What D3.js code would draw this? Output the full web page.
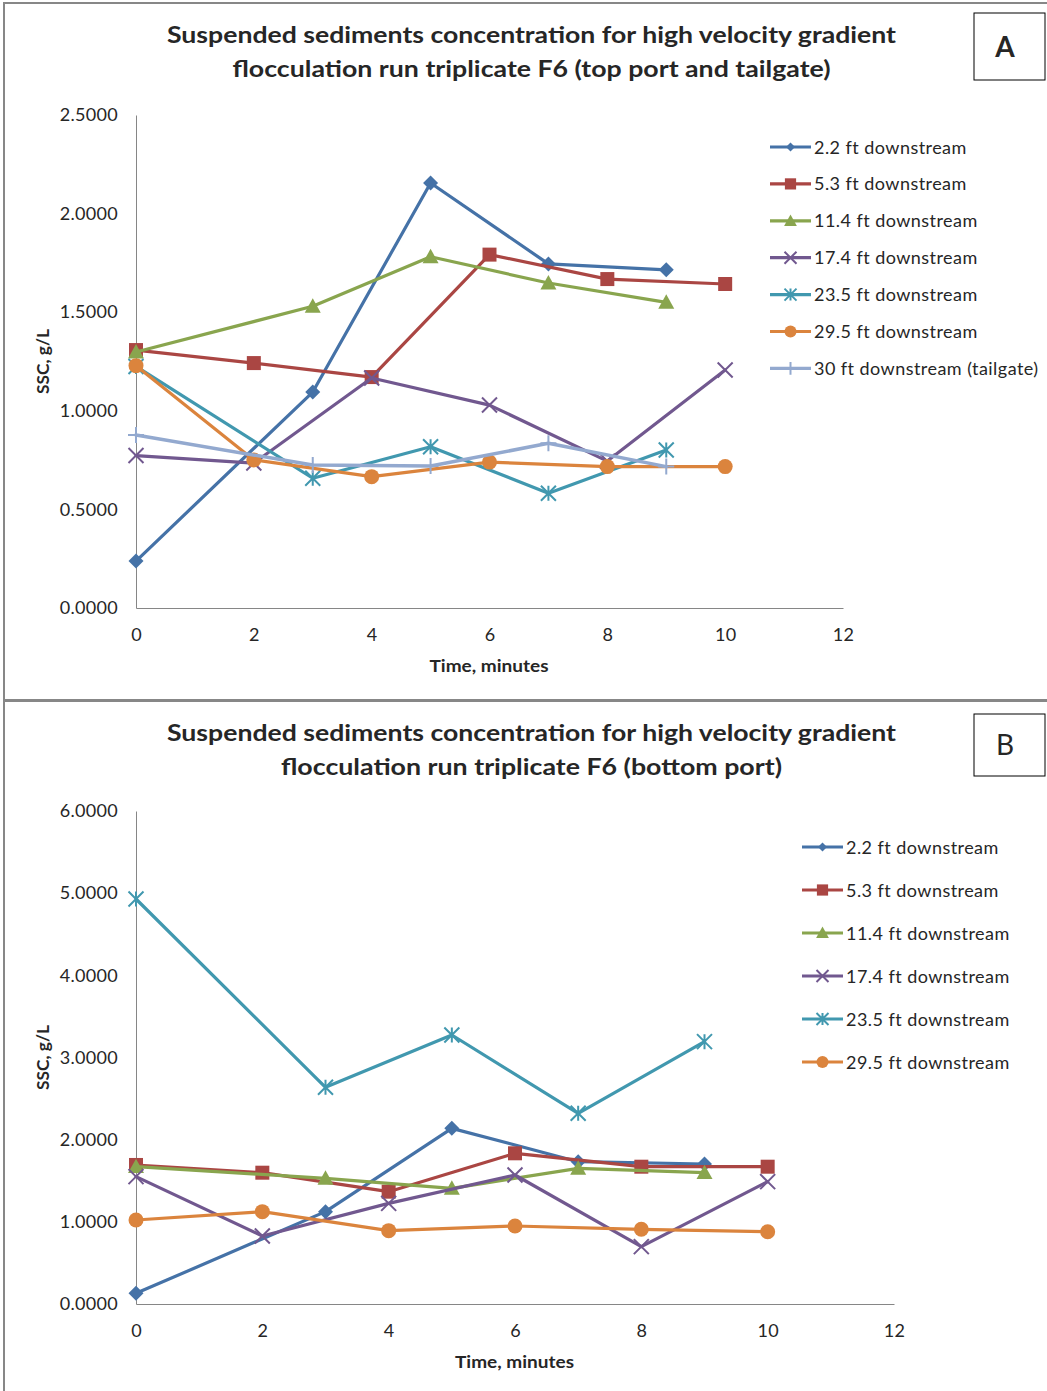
<!DOCTYPE html>
<html>
<head>
<meta charset="utf-8">
<script src="https://cdn.jsdelivr.net/npm/d3@7"></script>
<style>
  html, body { margin: 0; padding: 0; background: #fff; }
  svg { display: block; }
  text { font-family: Lato, "Open Sans", sans-serif; fill: #262626; }
</style>
</head>
<body>
<svg id="chart" width="1047" height="1391"></svg>
<script>
// ---------- DATA ----------
const timesOdd = [0, 3, 5, 7, 9];
const timesEven = [0, 2, 4, 6, 8, 10];

const seriesNamesA = ["2.2 ft downstream", "5.3 ft downstream", "11.4 ft downstream",
  "17.4 ft downstream", "23.5 ft downstream", "29.5 ft downstream", "30 ft downstream (tailgate)"];
const seriesNamesB = ["2.2 ft downstream", "5.3 ft downstream", "11.4 ft downstream",
  "17.4 ft downstream", "23.5 ft downstream", "29.5 ft downstream"];

// Panel A (top port and tailgate), SSC g/L
const a_2_2  = [0.238, 1.095, 2.155, 1.745, 1.715];
const a_5_3  = [1.308, 1.242, 1.171, 1.792, 1.668, 1.643];
const a_11_4 = [1.298, 1.530, 1.781, 1.648, 1.550];
const a_17_4 = [0.773, 0.735, 1.166, 1.029, 0.745, 1.207];
const a_23_5 = [1.225, 0.658, 0.818, 0.582, 0.801];
const a_29_5 = [1.229, 0.751, 0.666, 0.740, 0.717, 0.717];
const a_30   = [0.877, 0.725, 0.720, 0.835, 0.717];

// Panel B (bottom port), SSC g/L
const b_2_2  = [0.130, 1.124, 2.138, 1.732, 1.704];
const b_5_3  = [1.692, 1.598, 1.367, 1.834, 1.671, 1.671];
const b_11_4 = [1.671, 1.529, 1.408, 1.651, 1.598];
const b_17_4 = [1.550, 0.828, 1.225, 1.570, 0.698, 1.489];
const b_23_5 = [4.929, 2.637, 3.274, 2.321, 3.193];
const b_29_5 = [1.022, 1.124, 0.893, 0.949, 0.909, 0.880];

const xTicks = [0, 2, 4, 6, 8, 10, 12];
const yTicksA = [0, 0.5, 1.0, 1.5, 2.0, 2.5];
const yTicksB = [0, 1, 2, 3, 4, 5, 6];

const colors = ["#4572A7", "#AA4643", "#89A54E", "#71588F", "#4198AF", "#DB843D", "#93A9CF"];
const markers = ["diamond", "square", "triangle", "x", "asterisk", "circle", "plus"];

const titleA = ["Suspended sediments concentration for high velocity gradient",
                "flocculation run triplicate F6 (top port and tailgate)"];
const titleB = ["Suspended sediments concentration for high velocity gradient",
                "flocculation run triplicate F6 (bottom port)"];

// ---------- DRAWING ----------
const svg = d3.select("#chart");

function drawMarker(g, type, x, y, color, s) {
  s = s || 1;
  if (type === "diamond") {
    const r = 7.5 * s;
    g.append("path").attr("d", `M${x},${y - r}L${x + r},${y}L${x},${y + r}L${x - r},${y}Z`).attr("fill", color);
  } else if (type === "square") {
    const h = 7 * s;
    g.append("rect").attr("x", x - h).attr("y", y - h).attr("width", 2 * h).attr("height", 2 * h).attr("fill", color);
  } else if (type === "triangle") {
    const h = 8 * s;
    g.append("path").attr("d", `M${x},${y - h}L${x + h},${y + h * 0.8}L${x - h},${y + h * 0.8}Z`).attr("fill", color);
  } else if (type === "circle") {
    g.append("circle").attr("cx", x).attr("cy", y).attr("r", 7.5 * s).attr("fill", color);
  } else if (type === "x") {
    const h = 7.5 * s;
    g.append("path").attr("d", `M${x - h},${y - h}L${x + h},${y + h}M${x - h},${y + h}L${x + h},${y - h}`)
      .attr("stroke", color).attr("stroke-width", 2).attr("fill", "none");
  } else if (type === "asterisk") {
    const h = 7.5 * s;
    g.append("path").attr("d", `M${x - h},${y - h}L${x + h},${y + h}M${x - h},${y + h}L${x + h},${y - h}M${x},${y - h}L${x},${y + h}`)
      .attr("stroke", color).attr("stroke-width", 2).attr("fill", "none");
  } else if (type === "plus") {
    const h = 8 * s;
    g.append("path").attr("d", `M${x - h},${y}L${x + h},${y}M${x},${y - h}L${x},${y + h}`)
      .attr("stroke", color).attr("stroke-width", 2).attr("fill", "none");
  }
}

function drawPanel(cfg) {
  const g = svg.append("g");
  // frame
  g.append("rect").attr("x", cfg.frame[0]).attr("y", cfg.frame[1]).attr("width", cfg.frame[2]).attr("height", cfg.frame[3])
    .attr("fill", "none").attr("stroke", "#878787").attr("stroke-width", 2);

  // title
  cfg.title.forEach((t, i) => {
    g.append("text").attr("x", 531.5).attr("y", cfg.titleY[i]).attr("text-anchor", "middle")
      .attr("font-size", 22).attr("font-weight", "bold").attr("fill", "#000")
      .attr("textLength", cfg.titleW[i]).attr("lengthAdjust", "spacingAndGlyphs").text(t);
  });

  // label box
  g.append("rect").attr("x", 974).attr("y", cfg.box[0]).attr("width", 71).attr("height", cfg.box[1])
    .attr("fill", "#fff").attr("stroke", "#000").attr("stroke-width", 1);
  g.append("text").attr("x", 1005).attr("y", cfg.box[0] + cfg.box[1] / 2 + 10).attr("text-anchor", "middle")
    .attr("font-size", 28).attr("font-family", "Liberation Sans, Arial, sans-serif")
    .attr("font-weight", cfg.boxBold ? "bold" : "normal").attr("fill", "#000").text(cfg.letter);

  const x = d3.scaleLinear().domain([0, 12]).range([136, cfg.xRight]);
  const y = d3.scaleLinear().domain(cfg.yDomain).range([cfg.yBottom, cfg.yTop]);

  const yAxis = d3.axisLeft(y).tickValues(cfg.yTicks).tickSize(0).tickSizeOuter(0).tickPadding(18)
    .tickFormat(d3.format(".4f"));
  const xAxis = d3.axisBottom(x).tickValues(xTicks).tickSize(0).tickSizeOuter(0).tickPadding(20)
    .tickFormat(d3.format("d"));

  const gy = g.append("g").attr("transform", "translate(136,0)").call(yAxis);
  const gx = g.append("g").attr("transform", `translate(0,${cfg.yBottom})`).call(xAxis);
  [gx, gy].forEach(ax => {
    ax.select(".domain").attr("stroke", "#868686").attr("stroke-width", 1);
    ax.selectAll("text").attr("font-size", 18).attr("font-family", "Lato, sans-serif").attr("fill", "#262626")
      .attr("letter-spacing", 0.3);
  });

  // axis titles
  g.append("text").attr("x", (136 + cfg.xRight) / 2 - 0.5).attr("y", cfg.yBottom + 64).attr("text-anchor", "middle")
    .attr("font-size", 17).attr("font-weight", "bold").attr("fill", "#000")
    .attr("textLength", 119).attr("lengthAdjust", "spacingAndGlyphs").text("Time, minutes");
  g.append("text").attr("transform", `translate(49,${(cfg.yTop + cfg.yBottom) / 2}) rotate(-90)`).attr("text-anchor", "middle")
    .attr("font-size", 17).attr("font-weight", "bold").attr("fill", "#000")
    .attr("textLength", 65).attr("lengthAdjust", "spacingAndGlyphs").text("SSC, g/L");

  // series
  const line = d3.line().x(d => x(d[0])).y(d => y(d[1]));
  cfg.series.forEach((s, i) => {
    const pts = s.t.map((t, j) => [t, s.v[j]]);
    const sg = g.append("g");
    sg.append("path").attr("d", line(pts)).attr("fill", "none").attr("stroke", colors[i])
      .attr("stroke-width", i === 6 ? 3.5 : 3.2).attr("stroke-linejoin", "round").attr("stroke-linecap", "round");
    pts.forEach(p => drawMarker(sg, markers[i], x(p[0]), y(p[1]), colors[i], 1));
  });

  // legend
  cfg.names.forEach((n, i) => {
    const ly = cfg.legY + i * cfg.legStep;
    const lg = g.append("g");
    lg.append("line").attr("x1", cfg.legX).attr("x2", cfg.legX + 41).attr("y1", ly).attr("y2", ly)
      .attr("stroke", colors[i]).attr("stroke-width", 3.2);
    drawMarker(lg, markers[i], cfg.legX + 20.5, ly, colors[i], i === 0 ? 0.6 : 0.8);
    lg.append("text").attr("x", cfg.legX + 44).attr("y", ly + 6.5).attr("font-size", 18)
      .attr("letter-spacing", 0.45).attr("fill", "#262626").text(n);
  });
}

drawPanel({
  frame: [4, 3, 1050, 697], title: titleA, titleY: [43, 77], titleW: [729, 598],
  box: [13, 67], letter: "A", boxBold: true,
  xRight: 843, yTop: 115, yBottom: 608, yDomain: [0, 2.5], yTicks: yTicksA,
  names: seriesNamesA, legX: 770, legY: 147, legStep: 36.9,
  series: [
    { t: timesOdd, v: a_2_2 }, { t: timesEven, v: a_5_3 }, { t: timesOdd, v: a_11_4 },
    { t: timesEven, v: a_17_4 }, { t: timesOdd, v: a_23_5 }, { t: timesEven, v: a_29_5 },
    { t: timesOdd, v: a_30 }
  ]
});

drawPanel({
  frame: [4, 701, 1050, 700], title: titleB, titleY: [741, 775], titleW: [729, 501],
  box: [714, 62], letter: "B", boxBold: false,
  xRight: 894, yTop: 811, yBottom: 1304, yDomain: [0, 6], yTicks: yTicksB,
  names: seriesNamesB, legX: 802, legY: 847, legStep: 43,
  series: [
    { t: timesOdd, v: b_2_2 }, { t: timesEven, v: b_5_3 }, { t: timesOdd, v: b_11_4 },
    { t: timesEven, v: b_17_4 }, { t: timesOdd, v: b_23_5 }, { t: timesEven, v: b_29_5 }
  ]
});
</script>
</body>
</html>
